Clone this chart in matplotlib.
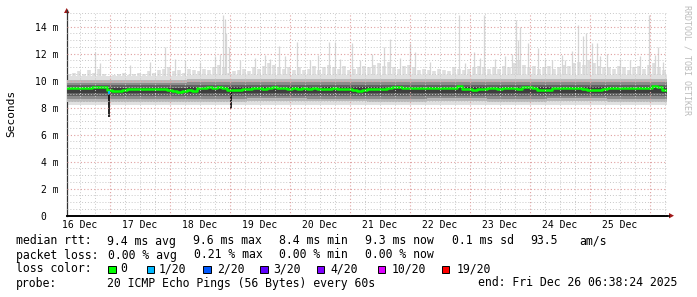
import datetime as dt
import numpy as np
import matplotlib
matplotlib.use("Agg")
import matplotlib.pyplot as plt
from matplotlib.patches import Rectangle, Polygon
from matplotlib.lines import Line2D

# ---------------- data ----------------
start = dt.datetime(2025, 12, 16, 6, 38, 24)
end = dt.datetime(2025, 12, 26, 6, 38, 24)

# median rtt (ms), 2-hour bins
median_ms = [
    9.44, 9.45, 9.43, 9.46, 9.48, 9.50,
    9.55, 9.52, 9.30,
    9.26, 9.25, 9.28, 9.35,
    9.38, 9.40, 9.37, 9.39, 9.40, 9.36, 9.38, 9.33,
    9.22, 9.20, 9.25, 9.28, 9.26,
    9.45, 9.48, 9.50, 9.47, 9.50, 9.46, 9.30,
    9.30, 9.28, 9.36,
    9.42, 9.44, 9.45, 9.42, 9.43, 9.50, 9.46, 9.44, 9.42, 9.45, 9.40, 9.43, 9.41, 9.44, 9.42,
    9.42, 9.40, 9.43, 9.41, 9.38, 9.35,
    9.28, 9.24, 9.30,
    9.35, 9.37, 9.36, 9.38, 9.45,
    9.50, 9.52, 9.48,
    9.46, 9.44, 9.45, 9.47, 9.43, 9.45, 9.44, 9.46, 9.47, 9.45, 9.60,
    9.38, 9.35, 9.34, 9.37,
    9.42, 9.44, 9.43, 9.42, 9.45, 9.43, 9.44, 9.42,
    9.50, 9.52, 9.46,
    9.32, 9.28, 9.30,
    9.44, 9.45, 9.43, 9.46, 9.48, 9.47,
    9.40, 9.34, 9.33, 9.31, 9.35,
    9.44, 9.45, 9.43, 9.46, 9.45, 9.44, 9.46, 9.45, 9.47,
    9.62, 9.50, 9.30,
]

# typical highest ping (ms), 2-hour bins
max_ms = [
    10.5, 10.6, 10.7, 10.5, 10.8, 10.6, 10.9, 10.5, 10.3,
    10.4, 10.5, 10.6, 10.4, 10.5, 10.6, 10.5, 10.7, 10.6, 10.8,
    10.9, 11.0, 10.7, 10.8, 10.6, 10.9, 10.8, 10.7, 10.9, 10.8, 11.0, 11.2, 11.0, 10.6,
    10.7, 10.8, 10.9, 10.7, 11.0, 10.9, 11.1, 11.3, 11.2, 11.0, 10.9, 11.0, 10.8,
    11.0, 10.8, 10.9, 11.1, 10.8, 11.0, 11.2, 11.0, 10.9, 11.1, 10.8, 10.9, 11.0,
    11.1, 11.0, 11.2, 11.3, 11.1, 11.4, 11.0, 10.9, 11.1, 11.2, 11.0, 10.8, 10.9,
    10.8, 10.7, 10.9, 10.8, 10.7, 11.0, 10.9, 10.8, 10.9, 11.0, 11.1,
    11.0, 10.9, 11.0, 10.9, 11.1, 11.0, 11.3, 11.5, 11.2, 11.0, 11.1, 10.9,
    11.0, 11.1, 10.9, 11.0, 11.2, 11.1, 11.3, 11.4, 11.2, 11.5, 11.3, 11.1, 11.0,
    11.0, 10.9, 11.1, 11.0, 10.8, 11.0, 11.1, 10.9, 11.2, 11.3, 11.0, 10.8,
]

# smoke band edges per day (ms), outer -> inner
band4_lo = [8.20, 8.22, 8.20, 8.23, 8.22, 8.20, 8.21, 8.20, 8.22, 8.20]
band4_hi = [10.35, 10.35, 10.40, 10.40, 10.40, 10.45, 10.40, 10.45, 10.45, 10.45]
band3_lo = [8.45, 8.45, 8.45, 8.48, 8.46, 8.45, 8.47, 8.45, 8.46, 8.45]
band3_hi = [10.08, 10.08, 10.12, 10.12, 10.12, 10.15, 10.12, 10.15, 10.15, 10.15]
band2_lo = [8.68, 8.68, 8.68, 8.70, 8.68, 8.68, 8.70, 8.68, 8.69, 8.68]
band2_hi = [9.85, 9.85, 9.87, 9.87, 9.87, 9.90, 9.87, 9.90, 9.90, 9.90]
band1_lo = [8.88, 8.88, 8.90, 8.90, 8.89, 8.90, 8.90, 8.90, 8.90, 8.90]
band1_hi = [9.65, 9.65, 9.67, 9.67, 9.67, 9.70, 9.67, 9.70, 9.70, 9.70]
band0_lo = [9.08, 9.08, 9.10, 9.10, 9.09, 9.10, 9.10, 9.10, 9.10, 9.10]
band0_hi = [9.48, 9.48, 9.50, 9.50, 9.50, 9.52, 9.50, 9.52, 9.52, 9.52]

# occasional slow pings: hours after start, value (ms)
spike_hours = [11.2, 13.3, 25.4, 33.3, 39.2, 43.3, 47.3, 53.3, 59.3, 61.3, 62.5, 63.3, 63.9,
               64.9, 69.3, 75.3, 79.3, 81.3, 84.8, 87.3, 92.1, 97.3, 100.5, 104.9, 107.5,
               109.3, 114.3, 117.3, 122.1, 126.9, 129.3, 133.3, 137.3, 139.3, 145.3, 156.9,
               159.3, 162.9, 165.3, 166.9, 171.3, 175.3, 178.1, 179.7, 180.5, 181.3, 184.5,
               188.5, 191.3, 194.1, 198.1, 199.3, 202.1, 204.5, 206.5, 207.7, 210.1, 212.1,
               213.3, 216.1, 221.3, 225.3, 229.3, 232.9, 235.3, 236.5, 238.5]
spike_ms = [12.1, 11.3, 11.2, 11.4, 12.5, 11.6, 11.5, 11.4, 11.8, 12.0, 14.9, 14.6, 13.5,
            12.5, 11.5, 11.7, 11.9, 11.6, 12.6, 11.8, 12.9, 11.5, 11.9, 12.9, 12.9,
            11.6, 12.8, 11.5, 12.0, 12.5, 13.1, 11.7, 12.8, 12.1, 11.4, 14.9,
            11.3, 12.1, 11.7, 14.9, 11.6, 11.8, 12.0, 14.5, 13.0, 14.0, 12.8,
            12.4, 11.6, 11.5, 11.9, 11.5, 12.2, 14.1, 13.3, 13.5, 12.8, 12.8,
            11.8, 12.0, 11.6, 11.5, 11.8, 14.9, 11.9, 12.5, 11.4]

# short drops (restarts): hours after start, low / high (ms)
drop_hours = [16.9, 65.6]
drop_lo = [7.3, 7.9]
drop_hi = [9.3, 9.4]

# legend
loss_labels = ["0", "1/20", "2/20", "3/20", "4/20", "10/20", "19/20"]
loss_colors = ["#00ff00", "#00b8ff", "#0059ff", "#5e00ff", "#7e00ff", "#dd00ff", "#ff0000"]
day_labels = ["16 Dec", "17 Dec", "18 Dec", "19 Dec", "20 Dec",
              "21 Dec", "22 Dec", "23 Dec", "24 Dec", "25 Dec"]
y_ticks = [0, 2, 4, 6, 8, 10, 12, 14]
y_tick_labels = ["0  ", "2 m", "4 m", "6 m", "8 m", "10 m", "12 m", "14 m"]

# ---------------- figure ----------------
W, H = 697, 297
MONO = "DejaVu Sans Mono"
fig = plt.figure(figsize=(W / 100, H / 100), dpi=100)
fig.patch.set_facecolor("white")

def fx(x):
    return x / W

def fy(y):
    return 1 - y / H

ax_l, ax_r, ax_t, ax_b = 66.7, 666.7, 13.2, 215.7
ax = fig.add_axes([fx(ax_l), fy(ax_b), (ax_r - ax_l) / W, (ax_b - ax_t) / H])
ax.set_facecolor("white")

def T(h):
    return start + dt.timedelta(hours=float(h))

edges2 = [T(2 * i) for i in range(len(median_ms) + 1)]
centers2 = [T(2 * i + 1) for i in range(len(max_ms))]
edges24 = [T(24 * i) for i in range(len(band0_lo) + 1)]

def ext(a):
    return list(a) + [a[-1]]

# lightest smoke: columns up to highest ping, plus occasional slow pings
ax.vlines(centers2, 10.0, max_ms, color="#dedede", lw=2.6, zorder=1)
ax.vlines([T(h) for h in spike_hours], 10.0, spike_ms, color="#d6d6d6", lw=0.9, zorder=1)
ax.fill_between(edges24, ext(band4_lo), ext(band4_hi), step="post", color="#e0e0e0", lw=0, zorder=2)
ax.fill_between(edges24, ext(band3_lo), ext(band3_hi), step="post", color="#b8b8b8", lw=0, zorder=3)
ax.fill_between(edges24, ext(band2_lo), ext(band2_hi), step="post", color="#8c8c8c", lw=0, zorder=4)
ax.fill_between(edges24, ext(band1_lo), ext(band1_hi), step="post", color="#626262", lw=0, zorder=5)
ax.fill_between(edges24, ext(band0_lo), ext(band0_hi), step="post", color="#3e3e3e", lw=0, zorder=6)
ax.vlines([T(h) for h in drop_hours], drop_lo, drop_hi, color="#111111", lw=1.3, zorder=7)

ax.step(edges2, ext(median_ms), where="post", color="#00ff00", lw=1.8, zorder=8)
ax.vlines([T(drop_hours[0])], 9.0, 9.25, color=loss_colors[1], lw=1.4, zorder=9)

ax.set_xlim(start, end)
ax.set_ylim(0, 15)

# grid (drawn over the smoke, as rrdtool does)
base = dt.datetime(2025, 12, 16, 0, 0)
minor_x = [base + dt.timedelta(hours=6 * i) for i in range(45)]
minor_x = [t for t in minor_x if start < t < end and t.hour != 0]
major_x = [dt.datetime(2025, 12, 17) + dt.timedelta(days=i) for i in range(10)]
for t in minor_x:
    ax.axvline(t, color="#c8c8c8", lw=0.7, ls=(0, (1, 2)), zorder=10)
for y in np.arange(0.5, 15.01, 0.5):
    if abs(y / 2 - round(y / 2)) > 1e-6:
        ax.axhline(y, color="#c8c8c8", lw=0.7, ls=(0, (1, 2)), zorder=10)
for t in major_x:
    ax.axvline(t, color="#e0a0a0", lw=0.8, ls=(0, (1, 2)), zorder=11)
for y in y_ticks[1:]:
    ax.axhline(y, color="#e0a0a0", lw=0.8, ls=(0, (1, 2)), zorder=11)

ax.set_yticks(y_ticks)
ax.set_yticklabels(y_tick_labels, fontfamily=MONO, fontsize=7)
noon = [dt.datetime(2025, 12, 16, 12) + dt.timedelta(days=i) for i in range(10)]
ax.set_xticks(noon)
ax.set_xticklabels(day_labels, fontfamily=MONO, fontsize=7)
ax.tick_params(axis="both", length=0, pad=3)
ax.tick_params(axis="y", pad=6)

for s in ["top", "right"]:
    ax.spines[s].set_visible(False)
ax.spines["left"].set_color("#333333")
ax.spines["left"].set_linewidth(0.9)
ax.spines["bottom"].set_color("#000000")
ax.spines["bottom"].set_linewidth(1.2)
ax.set_axisbelow(False)

# axis extensions and arrows
fig.add_artist(Line2D([fx(ax_l), fx(669)], [fy(ax_b), fy(ax_b)], color="black", lw=1.2))
fig.add_artist(Line2D([fx(ax_l), fx(ax_l)], [fy(ax_t), fy(10)], color="#333333", lw=0.9))
fig.add_artist(Polygon([[fx(64), fy(13)], [fx(69.4), fy(13)], [fx(66.7), fy(8)]],
                       closed=True, color="#a01818", lw=0))
fig.add_artist(Polygon([[fx(669), fy(ax_b - 2.7)], [fx(669), fy(ax_b + 2.7)], [fx(674), fy(ax_b)]],
                       closed=True, color="#a01818", lw=0))

# labels
fig.text(fx(11), fy(113), "Seconds", rotation=90, ha="center", va="center",
         fontfamily=MONO, fontsize=8)
fig.text(fx(686.5), fy(5), "RRDTOOL / TOBI OETIKER", rotation=-90, ha="center", va="top",
         fontfamily=MONO, fontsize=6, color="#bbbbbb")

FS = 8.3
def txt(x, y, s):
    fig.text(fx(x), fy(y), s, ha="left", va="center", fontfamily=MONO, fontsize=FS, color="black")

r1, r2, r3, r4 = 241, 255, 269, 283
txt(16, r1, "median rtt:")
for x, s in zip([107, 193, 279, 365, 451.7, 530, 579],
                ["9.4 ms avg", "9.6 ms max", "8.4 ms min", "9.3 ms now", "0.1 ms sd", "93.5", "am/s"]):
    txt(x, r1, s)
txt(16, r2, "packet loss:")
for x, s in zip([107.7, 194.3, 279.3, 365],
                ["0.00 % avg", "0.21 % max", "0.00 % min", "0.00 % now"]):
    txt(x, r2, s)
txt(16, r3, "loss color:")
sq_x = [108, 146.7, 203, 260, 316.7, 377.7, 441.7]
lb_x = [120, 159, 216.7, 273, 330, 391.7, 456.7]
for sx, lx, c, lab in zip(sq_x, lb_x, loss_colors, loss_labels):
    fig.add_artist(Rectangle((fx(sx), fy(r3 + 4)), 7.5 / W, 7.5 / H,
                             facecolor=c, edgecolor="black", lw=0.7))
    txt(lx, r3, lab)
txt(16, r4, "probe:")
txt(107, r4, "20 ICMP Echo Pings (56 Bytes) every 60s")
txt(478.3, r4, "end: Fri Dec 26 06:38:24 2025")

fig.savefig("out.png", dpi=100, facecolor="white")
